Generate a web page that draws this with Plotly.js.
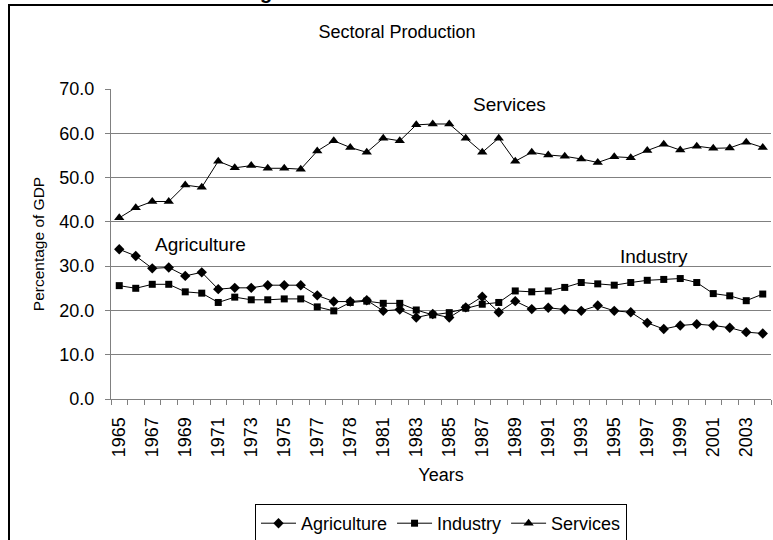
<!DOCTYPE html>
<html>
<head>
<meta charset="utf-8">
<script src="https://cdn.plot.ly/plotly-3.0.1.min.js"></script>
<style>
html,body{margin:0;padding:0;background:#fff;}
#chart{width:773px;height:540px;}
</style>
</head>
<body>
<div id="chart"></div>
<script>
// Category labels as they appear in the source data (index 14 is labelled "1978" in the original)
const years = ['1965','1966','1967','1968','1969','1970','1971','1972','1973','1974',
               '1975','1976','1977','1978','1978','1980','1981','1982','1983','1984',
               '1985','1986','1987','1988','1989','1990','1991','1992','1993','1994',
               '1995','1996','1997','1998','1999','2000','2001','2002','2003','2004'];

const agriculture = [33.8,32.3,29.5,29.7,27.8,28.6,24.8,25.1,25.1,25.7,
                     25.7,25.7,23.4,22.0,22.0,22.3,19.9,20.2,18.4,19.2,
                     18.4,20.7,23.1,19.6,22.1,20.3,20.6,20.2,19.9,21.1,
                     19.9,19.6,17.2,15.8,16.6,16.9,16.6,16.1,15.1,14.8];

const industry = [25.6,25.0,25.9,25.9,24.2,23.9,21.8,23.0,22.4,22.4,
                  22.6,22.6,20.8,19.9,21.8,22.1,21.6,21.6,20.1,19.0,
                  19.5,20.5,21.4,21.8,24.4,24.2,24.4,25.2,26.3,26.0,
                  25.7,26.3,26.8,27.0,27.2,26.3,23.8,23.3,22.2,23.7];

const services = [40.9,43.2,44.6,44.6,48.3,47.8,53.7,52.2,52.7,52.1,
                  52.1,51.9,56.0,58.3,56.8,55.7,58.9,58.3,61.9,62.1,
                  62.1,58.9,55.7,58.9,53.7,55.7,55.1,54.8,54.2,53.4,
                  54.7,54.5,56.1,57.5,56.2,57.1,56.6,56.7,58.0,56.8];

const seriesNames = ['Agriculture','Industry','Services'];

const idx = years.map((_, i) => i);
const tickIdx = idx.filter(i => i % 2 === 0);
const tickText = tickIdx.map(i => years[i]);

const FONT = '"Liberation Sans", Arial, sans-serif';

function series(name, y, symbol, size) {
  return {
    type: 'scatter', mode: 'lines+markers', name: name,
    x: idx, y: y,
    line: {color: '#000000', width: 1},
    marker: {symbol: symbol, size: size, color: '#000000'},
    hoverinfo: 'x+y'
  };
}

const data = [
  series(seriesNames[0], agriculture, 'diamond', 8),
  series(seriesNames[1], industry, 'square', 7),
  series(seriesNames[2], services, 'triangle-up', 9)
];

// pixel -> paper helpers (plot area: x 111..771, y 89..399)
const px = p => (p - 111) / 660;
const py = p => 1 + (89 - p) / 310;

const layout = {
  width: 773, height: 540,
  margin: {l: 111, r: 2, t: 89, b: 141, autoexpand: false},
  paper_bgcolor: '#ffffff', plot_bgcolor: '#ffffff',
  font: {family: FONT, color: '#000000', size: 18},
  showlegend: true,
  title: {
    text: 'Sectoral Production',
    font: {family: FONT, size: 18, color: '#000000'},
    xref: 'container', yref: 'container',
    x: 397/773, y: 1 - 32/540, xanchor: 'center', yanchor: 'middle'
  },
  xaxis: {
    type: 'linear',
    range: [-0.5, 39.5],
    tickmode: 'array', tickvals: tickIdx, ticktext: tickText,
    tickangle: -90,
    ticks: '',
    ticklabelstandoff: 10,
    minor: {tickmode: 'linear', tick0: -0.5, dtick: 1, ticks: 'outside', ticklen: 5, tickcolor: '#808080', tickwidth: 1, showgrid: false},
    tickfont: {family: FONT, size: 18, color: '#000000'},
    showline: true, linecolor: '#808080', linewidth: 1,
    showgrid: false, zeroline: false, automargin: false,
    title: {text: 'Years', font: {family: FONT, size: 18, color: '#000000'}, standoff: 12}
  },
  yaxis: {
    range: [0, 70],
    tickmode: 'linear', tick0: 0, dtick: 10,
    tickformat: '.1f',
    ticks: 'outside', ticklen: 5, tickcolor: '#808080', tickwidth: 1,
    ticklabelstandoff: 7,
    tickfont: {family: FONT, size: 18, color: '#000000'},
    showline: true, linecolor: '#808080', linewidth: 1,
    showgrid: true, gridcolor: '#808080', gridwidth: 1,
    zeroline: false, automargin: false,
    title: {text: 'Percentage of GDP', font: {family: FONT, size: 15.5, color: '#000000'}, standoff: 10}
  },
  legend: {
    orientation: 'h',
    xref: 'container', yref: 'container',
    x: 441/773, y: 1 - 504/540, xanchor: 'center', yanchor: 'top',
    bordercolor: '#000000', borderwidth: 1, bgcolor: '#ffffff',
    font: {family: FONT, size: 18, color: '#000000'},
    itemwidth: 35, tracegroupgap: 0
  },
  annotations: [
    {text: 'Services', x: 23.68, y: 66.6, xref: 'x', yref: 'y', showarrow: false, font: {family: FONT, size: 19, color: '#000000'}},
    {text: 'Agriculture', x: 4.95, y: 34.9, xref: 'x', yref: 'y', showarrow: false, font: {family: FONT, size: 19, color: '#000000'}},
    {text: 'Industry', x: 32.38, y: 32.1, xref: 'x', yref: 'y', showarrow: false, font: {family: FONT, size: 19, color: '#000000'}},
    {text: '<b>g</b>', x: px(266), y: py(-8), xref: 'paper', yref: 'paper', xanchor: 'center', yanchor: 'middle',
     showarrow: false, font: {family: FONT, size: 20, color: '#000000'}}
  ],
  shapes: [
    {type: 'rect', xref: 'paper', yref: 'paper',
     x0: px(9), x1: px(790),
     y0: py(560), y1: py(5),
     line: {color: '#000000', width: 2}, fillcolor: 'rgba(0,0,0,0)', layer: 'below'}
  ]
};

Plotly.newPlot('chart', data, layout, {displayModeBar: false, staticPlot: true});
</script>
</body>
</html>
